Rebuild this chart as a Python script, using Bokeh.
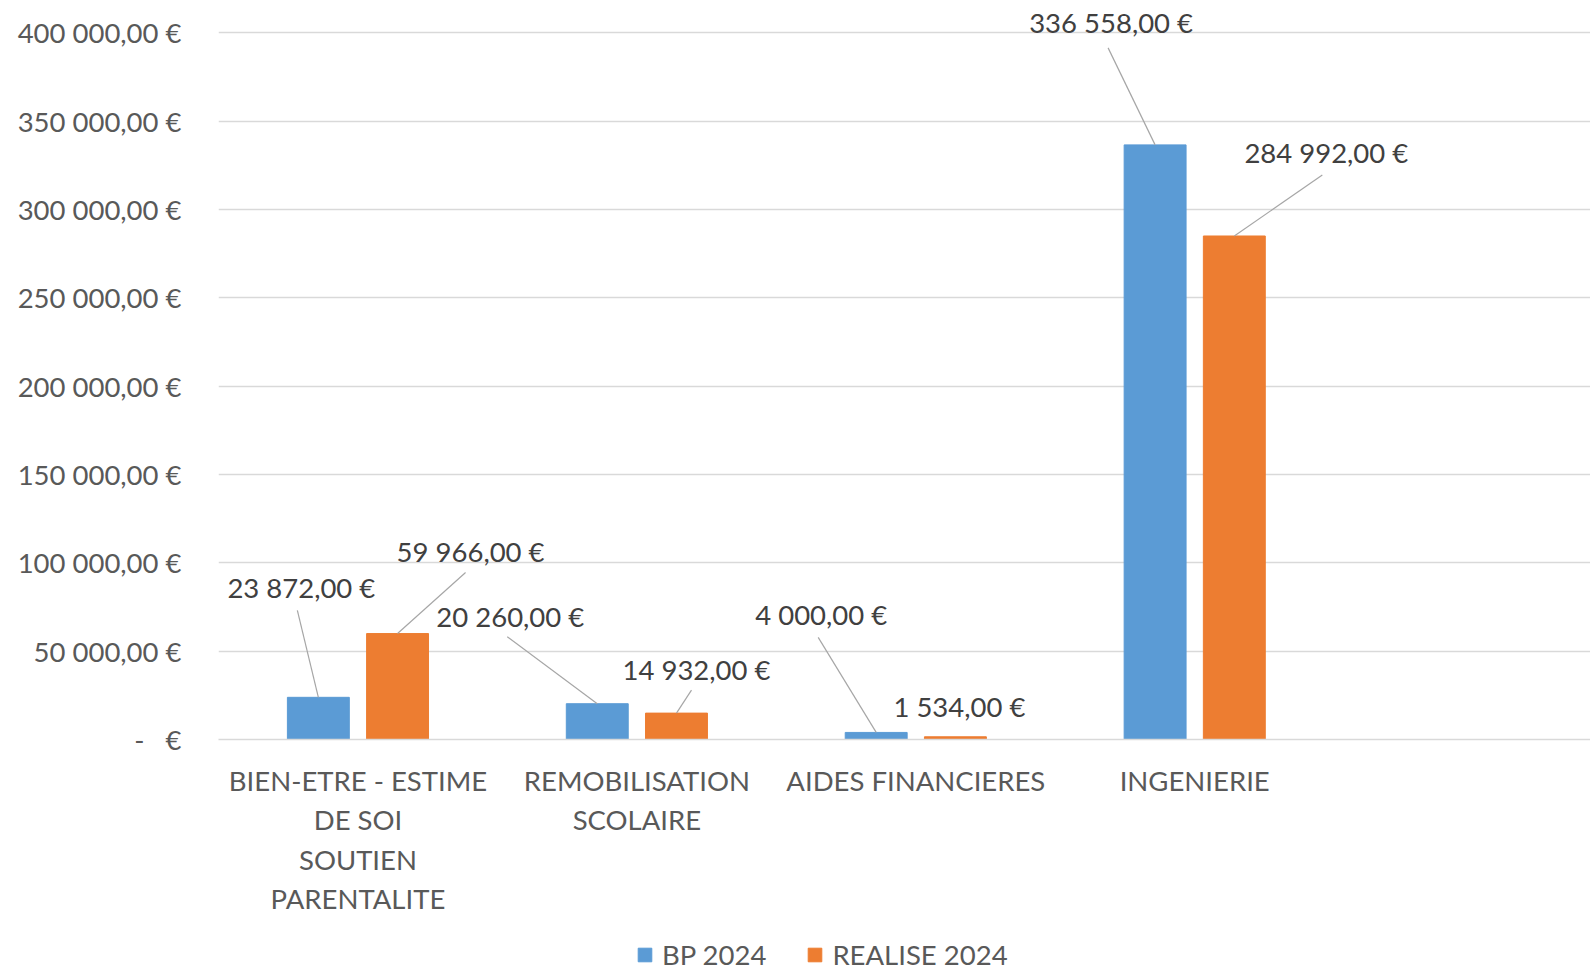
from bokeh.plotting import figure
from bokeh.layouts import column
from bokeh.models import Range1d, FixedTicker, Legend, LegendItem, ColumnDataSource
from bokeh.embed import file_html
from bokeh.resources import INLINE
from bokeh.core.properties import value

# ---- data ----
categories = ["BIEN-ETRE - ESTIME\nDE SOI\nSOUTIEN\nPARENTALITE",
              "REMOBILISATION\nSCOLAIRE",
              "AIDES FINANCIERES",
              "INGENIERIE"]
series_names = ["BP 2024", "REALISE 2024"]
bp_2024 = [23872, 20260, 4000, 336558]
realise_2024 = [59966, 14932, 1534, 284992]
y_ticks = [0, 50000, 100000, 150000, 200000, 250000, 300000, 350000, 400000]
y_tick_labels = ["-\u00a0\u00a0\u00a0€", "50 000,00 €", "100 000,00 €", "150 000,00 €",
                 "200 000,00 €", "250 000,00 €", "300 000,00 €", "350 000,00 €", "400 000,00 €"]

# ---- styles ----
FONT = "Lato"
FS = "27.5px"
BLUE = "#5B9BD5"
ORANGE = "#ED7D31"
GRID = "#D9D9D9"
AXIS_TXT = "#595959"
LBL_TXT = "#404040"

n_slots = 4.919          # visible category slots (chart is cropped at right)
frame_w = 1372
frame_h = 731
y_top = 413750
bar_w = 0.222
shift = 0.142

# label offsets (pixels, relative to bar top)
bp_lbl_dx = [-17, -87, -55, -44]
bp_lbl_dy = [-110, -87, -118, -122]
re_lbl_dx = [73, 20, 4, 92]
re_lbl_dy = [-82, -44, -30, -83]
bp_lead = [(-21, -87), (-90, -67), (-58, -95), (-47, -97)]
re_lead = [(68, -61), (15, -23), None, (88, -61)]

def fmt(v):
    s = f"{v:,.2f}".replace(",", " ").replace(".", ",")
    return s + " €"

px_x = frame_w / n_slots
px_y = frame_h / y_top

p = figure(width=1590, height=925, output_backend="svg", toolbar_location=None,
           x_range=Range1d(0, n_slots), y_range=Range1d(0, y_top),
           min_border_left=218, min_border_right=0, min_border_top=8, min_border_bottom=186,
           frame_width=frame_w, frame_height=frame_h)
p.outline_line_color = None
p.background_fill_color = "white"

centers = [i + 0.5 for i in range(len(categories))]
bp_x = [c - shift for c in centers]
re_x = [c + shift for c in centers]

p.vbar(x=bp_x, top=bp_2024, width=bar_w, fill_color=BLUE, line_color=BLUE)
p.vbar(x=re_x, top=realise_2024, width=bar_w, fill_color=ORANGE, line_color=ORANGE)

# leader lines
x0, y0, x1, y1 = [], [], [], []
for xs, vals, leads in ((bp_x, bp_2024, bp_lead), (re_x, realise_2024, re_lead)):
    for xx, v, ld in zip(xs, vals, leads):
        if ld is None:
            continue
        x0.append(xx); y0.append(v)
        x1.append(xx + ld[0] / px_x); y1.append(v - ld[1] / px_y)
p.segment(x0=x0, y0=y0, x1=x1, y1=y1, line_color="#A6A6A6", line_width=1.2)

# data labels
src = ColumnDataSource(dict(
    x=bp_x + re_x,
    y=bp_2024 + realise_2024,
    t=[fmt(v) for v in bp_2024 + realise_2024],
    dx=bp_lbl_dx + re_lbl_dx,
    dy=bp_lbl_dy + re_lbl_dy,
))
p.text(x="x", y="y", text="t", x_offset="dx", y_offset="dy", source=src,
       text_font=value(FONT), text_font_size=FS, text_color=LBL_TXT,
       text_align="center", text_baseline="middle")

# axes
p.yaxis.ticker = FixedTicker(ticks=y_ticks)
p.yaxis.major_label_overrides = {t: l for t, l in zip(y_ticks, y_tick_labels)}
p.yaxis.axis_line_color = None
p.yaxis.major_tick_line_color = None
p.yaxis.minor_tick_line_color = None
p.yaxis.major_tick_out = 0
p.yaxis.major_tick_in = 0
p.yaxis.major_label_standoff = 37
p.yaxis.major_label_text_font = FONT
p.yaxis.major_label_text_font_size = FS
p.yaxis.major_label_text_color = AXIS_TXT

p.xaxis.ticker = FixedTicker(ticks=centers)
p.xaxis.major_label_overrides = {c: l for c, l in zip(centers, categories)}
p.xaxis.axis_line_color = GRID
p.xaxis.axis_line_width = 1.5
p.xaxis.major_tick_line_color = None
p.xaxis.minor_tick_line_color = None
p.xaxis.major_label_standoff = 18
p.xaxis.major_label_text_font = FONT
p.xaxis.major_label_text_font_size = FS
p.xaxis.major_label_text_color = AXIS_TXT

p.xgrid.grid_line_color = None
p.ygrid.ticker = FixedTicker(ticks=y_ticks)
p.ygrid.grid_line_color = GRID
p.ygrid.grid_line_width = 1.5

# ---- legend strip (frame aligned with the main plot by the column layout) ----
pl = figure(width=1590, height=46, output_backend="svg", toolbar_location=None,
            x_range=Range1d(0, 1), y_range=Range1d(0, 1),
            min_border_left=0, min_border_right=0, min_border_top=0, min_border_bottom=0)
pl.outline_line_color = None
pl.axis.visible = False
pl.grid.visible = False
# hidden swatch renderers; only their legend glyphs are shown
lr_bp = pl.vbar(x=[0.5], top=[1], width=0.1, fill_color=BLUE, line_color=BLUE, visible=False)
lr_re = pl.vbar(x=[0.5], top=[1], width=0.1, fill_color=ORANGE, line_color=ORANGE, visible=False)
legend = Legend(items=[LegendItem(label=series_names[0], renderers=[lr_bp], index=0),
                       LegendItem(label=series_names[1], renderers=[lr_re], index=0)],
                orientation="horizontal", location=(418, 0),
                label_text_font=FONT, label_text_font_size=FS, label_text_color=AXIS_TXT,
                glyph_width=17, glyph_height=17, label_standoff=9, spacing=40,
                padding=0, margin=0, border_line_color=None, background_fill_alpha=0,
                inactive_fill_alpha=0)
pl.add_layout(legend, "center")

open("out.html", "w").write(file_html(column(p, pl, spacing=0), INLINE))
